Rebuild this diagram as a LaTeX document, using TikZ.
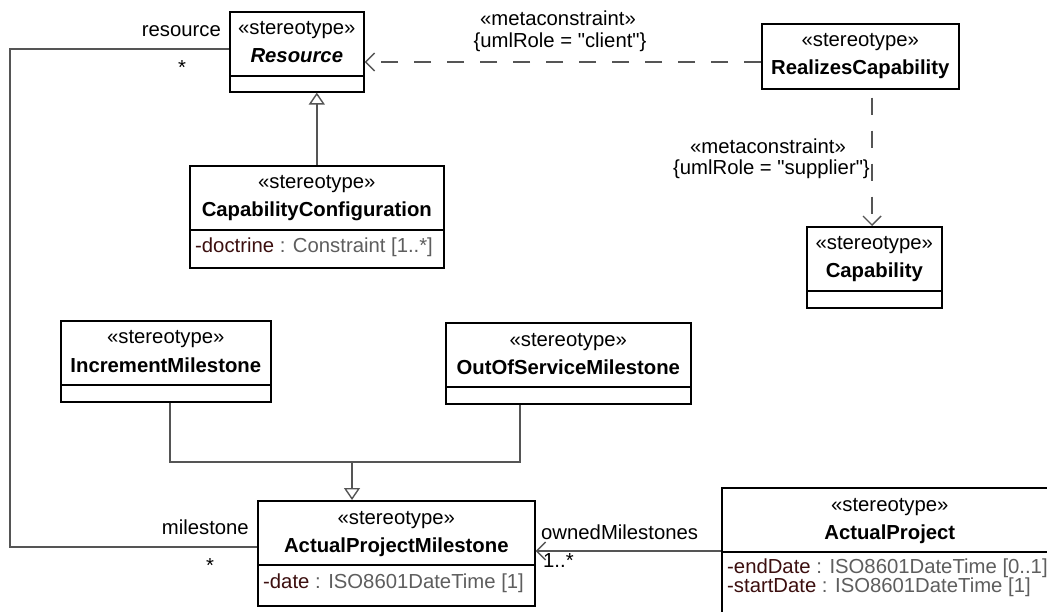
\documentclass[tikz,border=0pt]{standalone}
\usepackage{fontspec}
\setmainfont{Liberation Sans}
\usetikzlibrary{arrows.meta,positioning}
\definecolor{attrname}{HTML}{3C0F0F}
\definecolor{attrtype}{HTML}{5E5E5E}
\definecolor{connline}{HTML}{555555}
\tikzset{
  classbox/.style={draw=black,line width=1.6pt,anchor=north west,inner sep=0pt},
  sepline/.style={draw=black,line width=1.4pt},
  uml/.style={font=\fontsize{20.3}{24}\selectfont,text height=14pt,text depth=4pt,inner sep=0pt},
  cname/.style={uml,font=\fontsize{20.3}{24}\selectfont\bfseries},
  attr/.style={uml,anchor=west,text depth=3pt},
  conn/.style={draw=connline,line width=1.4pt},
  gen/.style={conn,-{Triangle[open,length=12pt,width=16pt,fill=white]}},
  navarrow/.style={conn,-{Straight Barb[length=9pt,width=18pt]}},
  depline/.style={navarrow,dash pattern=on 17pt off 16pt},
}
\begin{document}
\begin{tikzpicture}[x=1pt,y=-1pt]
  \fill[white] (0,0) rectangle (1047,612);
  \useasboundingbox (0,0) rectangle (1047,612);
  \clip (0,0) rectangle (1047,612);
  % classes
  \foreach \n/\x/\y/\w/\h/\t in {resource/229/11/134/80/\textit{Resource},
      realizes/761/23/197/65/RealizesCapability,
      capability/806/226/135/81/Capability,
      capconf/189/165/254/102/CapabilityConfiguration,
      incr/60/320/210/81/IncrementMilestone,
      oos/445/322/245/81/OutOfServiceMilestone,
      apm/257/500/277/105/ActualProjectMilestone,
      ap/721/487/336/140/ActualProject} {
    \node[classbox,minimum width=\w pt,minimum height=\h pt] (\n) at (\x,\y) {};
    \node[uml] (\n-st) at ([yshift=-19pt]\n.north) {«stereotype»};
    \node[cname] (\n-nm) at ([yshift=-47pt]\n.north) {\t};
  }
  \foreach \n in {resource,capability,capconf,incr,oos,apm,ap}
    \draw[sepline] ([yshift=-65pt]\n.north west) -- ([yshift=-65pt]\n.north east);
  % attributes
  \node[attr] (capconf-a1) at ([xshift=6pt,yshift=-82pt]capconf.north west)
    {\textcolor{attrname}{-doctrine} \textcolor{attrtype}{: Constraint [1..*]}};
  \node[attr] (apm-a1) at ([xshift=6pt,yshift=-83pt]apm.north west)
    {\textcolor{attrname}{-date} \textcolor{attrtype}{: ISO8601DateTime [1]}};
  \node[attr] (ap-a1) at ([xshift=6pt,yshift=-81pt]ap.north west)
    {\textcolor{attrname}{-endDate} \textcolor{attrtype}{: ISO8601DateTime [0..1]}};
  \node[attr] (ap-a2) at ([xshift=6pt,yshift=-100pt]ap.north west)
    {\textcolor{attrname}{-startDate} \textcolor{attrtype}{: ISO8601DateTime [1]}};
  % connectors
  \draw[gen] (capconf.north) -- (capconf.north |- resource.south);
  \draw[depline] (realizes.west |- 0,62) -- (resource.east |- 0,62);
  \draw[depline,dash phase=25pt] (872,0 |- realizes.south) -- (872,0 |- capability.north);
  \coordinate (merge) at (352,462);
  \draw[conn] (170,0 |- incr.south) |- (merge) -| (520,0 |- oos.south);
  \draw[gen] (merge) -- (merge |- apm.north);
  \draw[conn] (apm.west |- 0,547) -| (10,49) -- (resource.west |- 0,49);
  \draw[navarrow] (ap.west |- 0,551) -- (apm.east |- 0,551);
  % labels
  \node[uml,anchor=east] (resource-role) at (221,32) {resource};
  \node[uml] (resource-mult) at (182,70) {*};
  \node[uml] (client-st) at (558,21) {«metaconstraint»};
  \node[uml] (client-role) at (560,43) {\{umlRole = \textquotedbl client\textquotedbl\}};
  \node[uml] (supplier-st) at (768,149) {«metaconstraint»};
  \node[uml,anchor=east] (supplier-role) at (870,170) {\{umlRole = \textquotedbl supplier\textquotedbl\}};
  \node[uml,anchor=east] (milestone-role) at (249,529) {milestone};
  \node[uml] (milestone-mult) at (210,567) {*};
  \node[uml,anchor=west] (owned-role) at (541,534) {ownedMilestones};
  \node[uml,anchor=west] (owned-mult) at (543,562) {1..*};
\end{tikzpicture}
\end{document}
